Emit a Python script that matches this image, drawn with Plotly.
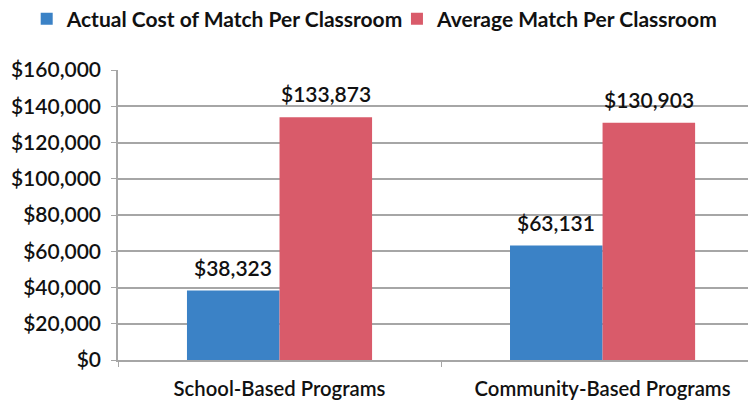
import plotly.graph_objects as go

categories = ["School-Based Programs", "Community-Based Programs"]
actual_cost = [38323, 63131]
average_match = [133873, 130903]
series_names = ["Actual Cost of Match Per Classroom", "Average Match Per Classroom"]
tick_vals = [0, 20000, 40000, 60000, 80000, 100000, 120000, 140000, 160000]
tick_text = ["$0", "$20,000", "$40,000", "$60,000", "$80,000", "$100,000", "$120,000", "$140,000", "$160,000"]

FONT = "Lato"
TXT = "#111111"
GRID = "#a6a6a6"
COLORS = ["#3b82c6", "#d95b6a"]

# page body has an 8px default margin, so the figure is 8px smaller
W, H = 748, 392
ML, MR, MT, MB = 110, 0, 62, 40
XRANGE = [-0.5, 1.475]
BARGAP = 0.427

fig = go.Figure()
for vals, name, col, lg in zip([actual_cost, average_match], series_names, COLORS, ["legend", "legend2"]):
    fig.add_trace(go.Bar(
        x=categories, y=vals, name=name, legend=lg,
        marker=dict(color=col, line=dict(width=0)),
        hoverinfo="x+y",
    ))

# data labels above bars (annotations in data coordinates, shifted to each bar of the group)
px_per_unit = (W - ML - MR) / (XRANGE[1] - XRANGE[0])
bar_w_px = (1 - BARGAP) / 2 * px_per_unit
for i, vals in enumerate([actual_cost, average_match]):
    shift = (i - 0.5) * bar_w_px
    for cat, v in zip(categories, vals):
        fig.add_annotation(
            x=cat, y=v, text=f"${v:,}", showarrow=False,
            xshift=shift, yshift=9, yanchor="bottom",
            font=dict(family=FONT, size=21, color=TXT, weight=600),
        )

legend_common = dict(orientation="h", xanchor="left", xref="container",
                     y=0.972, yanchor="middle", yref="container",
                     font=dict(family=FONT, size=21, color=TXT, weight="bold"),
                     itemwidth=30, bgcolor="rgba(0,0,0,0)")

fig.update_layout(
    width=W, height=H,
    margin=dict(l=ML, r=MR, t=MT, b=MB, autoexpand=False),
    paper_bgcolor="white", plot_bgcolor="white",
    barmode="group", bargap=BARGAP, bargroupgap=0,
    font=dict(family=FONT, size=19, color=TXT, weight=600),
    showlegend=True,
    legend=dict(x=0.025, **legend_common),
    legend2=dict(x=0.52, **legend_common),
    xaxis=dict(
        range=XRANGE, showgrid=False, automargin=False,
        showline=True, linecolor=GRID, linewidth=1.5,
        ticks="outside", tickson="boundaries", ticklen=5, tickcolor=GRID,
        tickfont=dict(family=FONT, size=20.3, color=TXT, weight=600),
        ticklabelstandoff=10,
    ),
    yaxis=dict(
        range=[0, 160000], tickvals=tick_vals, ticktext=tick_text, automargin=False,
        showgrid=True, gridcolor=GRID, gridwidth=1.5,
        showline=True, linecolor=GRID, linewidth=1.5,
        ticks="outside", ticklen=5, tickcolor=GRID,
        tickfont=dict(family=FONT, size=21, color=TXT, weight=600),
        ticklabelstandoff=6,
        zeroline=False,
    ),
)

fig.write_html("out.html")
